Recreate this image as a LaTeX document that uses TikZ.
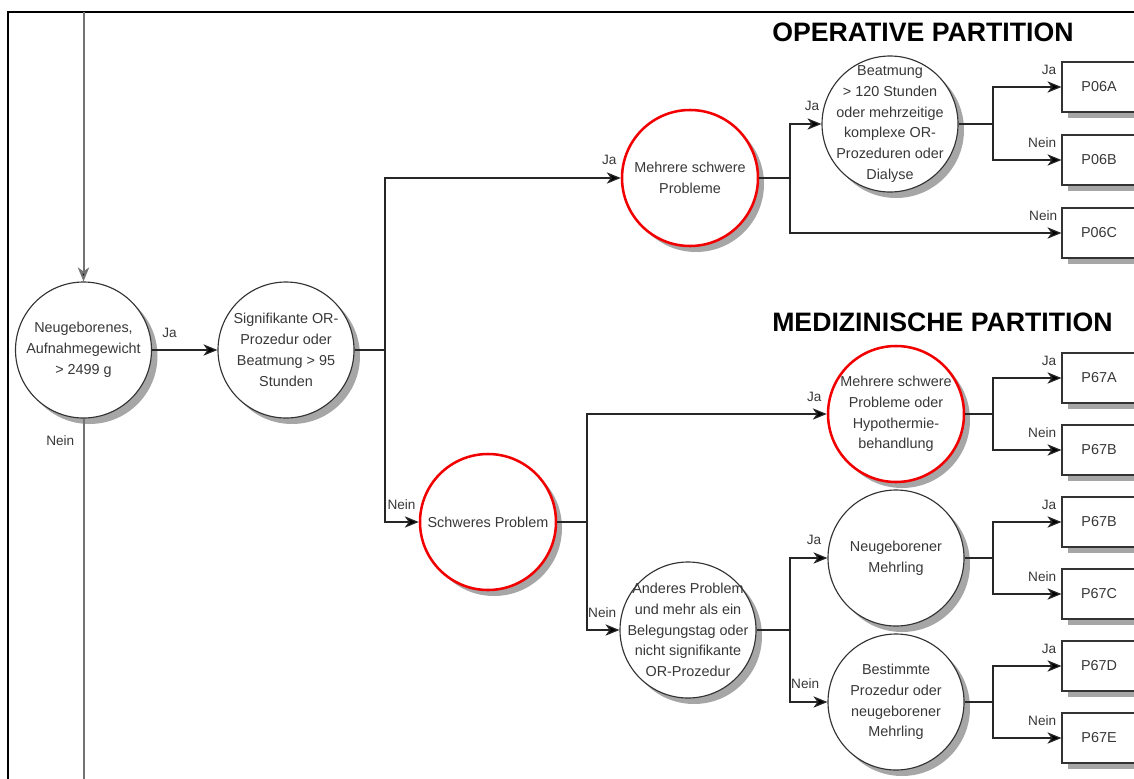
\documentclass[tikz,border=0pt]{standalone}
\usepackage{fontspec}
\setmainfont{Liberation Sans}
\usetikzlibrary{arrows.meta,shadows}
\begin{document}
\begin{tikzpicture}[x=0.75pt,y=-0.75pt,
  txt/.style={text=black!78, font=\fontsize{10.8}{15.6}\selectfont, align=center},
  shad/.style={drop shadow={shadow xshift=4.5pt, shadow yshift=-4.5pt, fill=black!35, opacity=1}},
  dec/.style={circle, draw=black!80, line width=0.85pt, fill=white, minimum size=102pt, inner sep=-30pt, txt, shad},
  crit/.style={dec, draw=red!95!black, line width=1.9pt},
  res/.style={rectangle, draw=black!80, line width=0.85pt, fill=white, minimum width=55.5pt, minimum height=37.5pt, inner sep=0pt, txt, shad},
  lbl/.style={text=black!78, font=\fontsize{10.2}{12}\selectfont, inner sep=0pt, anchor=east},
  tip/.style={-{Stealth[length=10.5pt,width=8.5pt,inset=3pt,fill=black]}},
  conn/.style={draw=black!85, line width=0.9pt},
  arr/.style={conn, tip},
  gline/.style={draw=black!55, line width=1.5pt},
  frame/.style={draw=black, line width=1.9pt},
  title/.style={font=\fontsize{20}{24}\selectfont\bfseries, text=black, inner sep=0pt, anchor=west}
]
\useasboundingbox (0,0) rectangle (1134,778);

% frame
\coordinate (fa) at (8,790);
\coordinate (fb) at (8,12);
\coordinate (fc) at (1145,12);
\draw[frame] (fa) -- (fb) -- (fc);

% titles
\node[title] (t1) at (772,32) {OPERATIVE PARTITION};
\node[title] (t2) at (772,322) {MEDIZINISCHE PARTITION};

% decision circles
\node[dec] (c1) at (83.5,350) {Neugeborenes,\\Aufnahmegewicht\\> 2499 g};
\node[dec] (c2) at (286,350) {Signifikante OR-\\Prozedur oder\\Beatmung > 95\\Stunden};
\node[crit] (c3) at (690,178) {Mehrere schwere\\Probleme};
\node[dec] (c4) at (890,124) {Beatmung\\> 120 Stunden\\oder mehrzeitige\\komplexe OR-\\Prozeduren oder\\Dialyse};
\node[crit] (c5) at (488,522) {Schweres Problem};
\node[crit] (c6) at (896,414) {Mehrere schwere\\Probleme oder\\Hypothermie-\\behandlung};
\node[dec] (c7) at (688,630) {Anderes Problem\\und mehr als ein\\Belegungstag oder\\nicht signifikante\\OR-Prozedur};
\node[dec] (c8) at (896,558) {Neugeborener\\Mehrling};
\node[dec] (c9) at (896,702) {Bestimmte\\Prozedur oder\\neugeborener\\Mehrling};

% result boxes
\node[res] (p06a) at (1099,87) {P06A};
\node[res] (p06b) at (1099,160) {P06B};
\node[res] (p06c) at (1099,233) {P06C};
\node[res] (p67a) at (1099,378) {P67A};
\node[res] (p67b1) at (1099,450) {P67B};
\node[res] (p67b2) at (1099,522) {P67B};
\node[res] (p67c) at (1099,594) {P67C};
\node[res] (p67d) at (1099,666) {P67D};
\node[res] (p67e) at (1099,738) {P67E};

% junction columns
\coordinate (j2) at (385,0);
\coordinate (j3) at (790,0);
\coordinate (j4) at (993,0);
\coordinate (j5) at (587,0);

% incoming / outgoing
\coordinate (in) at (83.5,12);
\coordinate (out) at (83.5,790);
\draw[gline, tip] (in) -- (c1.north);
\draw[gline] (c1.south) -- (out);

% connectors
\draw[arr] (c1.east) -- (c2.west);
\draw[arr] (c2.east) -- (c2.east -| j2) |- (c3.west);
\draw[arr] (c2.east -| j2) |- (c5.west);
\draw[arr] (c3.east) -- (c3.east -| j3) |- (c4.west);
\draw[arr] (c3.east -| j3) |- (p06c.west);
\draw[arr] (c4.east) -- (c4.east -| j4) |- (p06a.west);
\draw[arr] (c4.east -| j4) |- (p06b.west);
\draw[arr] (c5.east) -- (c5.east -| j5) |- (c6.west);
\draw[arr] (c5.east -| j5) |- (c7.west);
\draw[arr] (c6.east) -- (c6.east -| j4) |- (p67a.west);
\draw[arr] (c6.east -| j4) |- (p67b1.west);
\draw[arr] (c7.east) -- (c7.east -| j3) |- (c8.west);
\draw[arr] (c7.east -| j3) |- (c9.west);
\draw[arr] (c8.east) -- (c8.east -| j4) |- (p67b2.west);
\draw[arr] (c8.east -| j4) |- (p67c.west);
\draw[arr] (c9.east) -- (c9.east -| j4) |- (p67d.west);
\draw[arr] (c9.east -| j4) |- (p67e.west);

% labels
\node[lbl] (l1) at ([shift={(25,-17)}]c1.east) {Ja};
\node[lbl] (l2) at ([shift={(-9,22)}]c1.south) {Nein};
\node[lbl] (l3) at ([shift={(-4,-18)}]c3.west) {Ja};
\node[lbl] (l4) at ([shift={(-3,-17)}]c5.west) {Nein};
\node[lbl] (l5) at ([shift={(-2,-18)}]c4.west) {Ja};
\node[lbl] (l6) at ([shift={(-4,-17)}]p06c.west) {Nein};
\node[lbl] (l7) at ([shift={(-5,-17)}]p06a.west) {Ja};
\node[lbl] (l8) at ([shift={(-5,-17)}]p06b.west) {Nein};
\node[lbl] (l9) at ([shift={(-5,-17)}]c6.west) {Ja};
\node[lbl] (l10) at ([shift={(-3,-17)}]c7.west) {Nein};
\node[lbl] (l11) at ([shift={(-5,-17)}]p67a.west) {Ja};
\node[lbl] (l12) at ([shift={(-5,-17)}]p67b1.west) {Nein};
\node[lbl] (l13) at ([shift={(-6,-18)}]c8.west) {Ja};
\node[lbl] (l14) at ([shift={(-8,-18)}]c9.west) {Nein};
\node[lbl] (l15) at ([shift={(-5,-17)}]p67b2.west) {Ja};
\node[lbl] (l16) at ([shift={(-5,-17)}]p67c.west) {Nein};
\node[lbl] (l17) at ([shift={(-5,-17)}]p67d.west) {Ja};
\node[lbl] (l18) at ([shift={(-5,-17)}]p67e.west) {Nein};
\end{tikzpicture}
\end{document}
